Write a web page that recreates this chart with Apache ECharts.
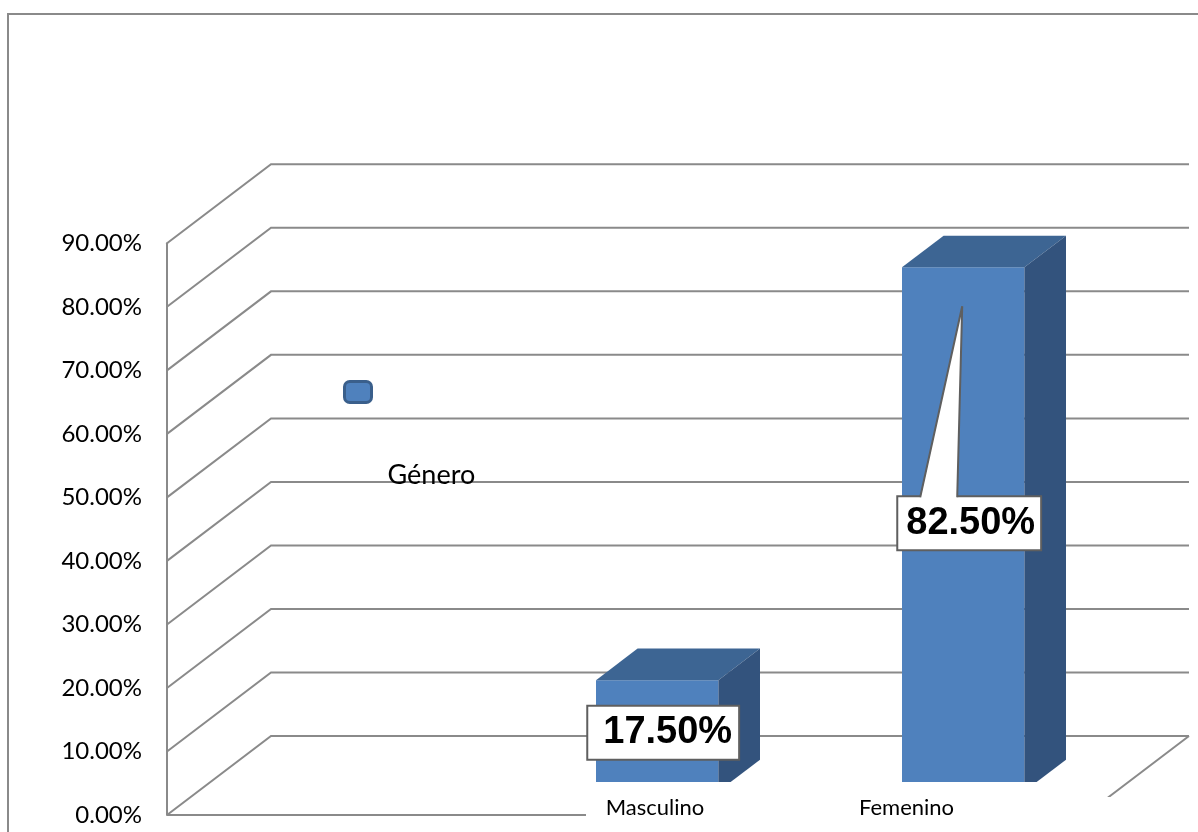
<!DOCTYPE html>
<html>
<head>
<meta charset="utf-8">
<title>Género</title>
<script src="https://cdn.jsdelivr.net/npm/echarts@6/dist/echarts.min.js"></script>
<style>
  html, body { margin: 0; padding: 0; background: #ffffff; }
  #chart { width: 1198px; height: 832px; }
</style>
</head>
<body>
<div id="chart"></div>
<script>
// Categories along the floor (the first slot is left empty)
const categories = ['', 'Masculino', 'Femenino'];
// Share of respondents per category
const shares = [null, 0.175, 0.825];
// Value-axis ticks (also the wall/floor grid lines)
const yTicks = [0, 0.1, 0.2, 0.3, 0.4, 0.5, 0.6, 0.7, 0.8, 0.9];
const seriesName = 'Género';

// Oblique projection: offset from the front plane to the back wall, in px
const DEPTH_X = 104;
const DEPTH_Y = 79;
// Bars occupy the middle 40% of the depth and 40% of a category band
const BAR_FRONT = 0.3;
const BAR_DEPTH = 0.4;
const BAR_WIDTH = 0.4;

const GRID_COLOR = '#8a8a8a';
const FACE_FRONT = '#4f81bd';
const FACE_TOP = '#3d6593';
const FACE_SIDE = '#33537d';

const pct = v => (v * 100).toFixed(2) + '%';

// Side wall + back wall lines, one polyline per tick value
function renderWall(params, api) {
  const v = api.value(1);
  const band = api.size([1, 0])[0];
  const p = api.coord([0, v]);
  const x0 = p[0] - band / 2;
  const x1 = api.coord([categories.length - 1, v])[0] + band / 2;
  const y = p[1];
  const children = [{
    type: 'polyline',
    shape: { points: [[x0, y], [x0 + DEPTH_X, y - DEPTH_Y], [x1 + DEPTH_X, y - DEPTH_Y]] },
    style: { stroke: GRID_COLOR, lineWidth: 2, fill: null }
  }];
  if (v === 0) {
    // front and right edges of the floor
    children.push({
      type: 'polyline',
      shape: { points: [[x0, y], [x1, y], [x1 + DEPTH_X, y - DEPTH_Y]] },
      style: { stroke: GRID_COLOR, lineWidth: 2, fill: null }
    });
  }
  return { type: 'group', children: children };
}

// Label placement per category (box padding, callout)
const labelLook = {
  1: { padLeft: 15, padRight: 6, dy: -3, callout: false },
  2: { padLeft: 8, padRight: 5, dy: -6, callout: true }
};

// 3-D column: front, top and side faces, plus the value label
function renderBar(params, api) {
  const idx = api.value(0);
  const v = api.value(1);
  const band = api.size([1, 0])[0];
  const base = api.coord([idx, 0]);
  const top = api.coord([idx, v]);
  const w = band * BAR_WIDTH;
  const fdx = DEPTH_X * BAR_FRONT, fdy = DEPTH_Y * BAR_FRONT;
  const ddx = DEPTH_X * BAR_DEPTH, ddy = DEPTH_Y * BAR_DEPTH;
  const cx = base[0] + fdx;
  const xL = cx - w / 2, xR = cx + w / 2;
  const yT = top[1] - fdy;
  const yB = base[1] - fdy;
  // the floor band in front of the columns is left open
  const clipY = base[1] - 33;
  const yBottom = Math.min(yB, clipY);

  const sidePts = [[xR, yT], [xR + ddx, yT - ddy], [xR + ddx, Math.min(yB - ddy, clipY)]];
  if (yB > clipY) {
    sidePts.push([xR + (yB - clipY) * ddx / ddy, clipY]);
  }
  sidePts.push([xR, yBottom]);

  const children = [
    { type: 'rect', shape: { x: xL, y: yT, width: w, height: yBottom - yT }, style: { fill: FACE_FRONT } },
    { type: 'polygon', shape: { points: [[xL, yT], [xL + ddx, yT - ddy], [xR + ddx, yT - ddy], [xR, yT]] }, style: { fill: FACE_TOP } },
    { type: 'polygon', shape: { points: sidePts }, style: { fill: FACE_SIDE } }
  ];

  const look = labelLook[idx] || { padLeft: 10, padRight: 8, dy: 0, callout: false };
  const midY = (yT + yB) / 2 + look.dy;
  const textX = cx + 6;
  children.push({
    type: 'text',
    z2: 10,
    style: {
      text: pct(v),
      x: textX,
      y: midY,
      align: 'center',
      verticalAlign: 'middle',
      font: 'bold 38px "Liberation Sans", Arial, sans-serif',
      fill: '#000000',
      backgroundColor: '#ffffff',
      borderColor: '#5f5f5f',
      borderWidth: 2,
      lineHeight: 40,
      padding: [6, look.padRight, 6, look.padLeft]
    }
  });
  if (look.callout) {
    const boxTop = midY - 26;
    const tip = [cx - 1, yT + 39];
    const a = [cx - 43, boxTop];
    const b = [cx - 6, boxTop];
    children.push({
      type: 'polygon', z2: 11,
      shape: { points: [[a[0], boxTop + 2], tip, [b[0], boxTop + 2]] },
      style: { fill: '#ffffff' }
    });
    children.push({
      type: 'polyline', z2: 12,
      shape: { points: [a, tip, b] },
      style: { stroke: '#5f5f5f', lineWidth: 2, fill: null }
    });
  }
  return { type: 'group', children: children };
}

const chart = echarts.init(document.getElementById('chart'), null, { renderer: 'canvas' });

chart.setOption({
  backgroundColor: '#ffffff',
  animation: false,
  graphic: [
    {
      type: 'rect', z: 0,
      shape: { x: 8, y: 14, width: 1300, height: 900 },
      style: { fill: null, stroke: '#8a8a8a', lineWidth: 2 }
    },
    {
      // area under the category names
      type: 'rect', z: 50,
      shape: { x: 586, y: 797, width: 640, height: 34 },
      style: { fill: '#ffffff' }
    }
  ],
  legend: {
    data: [{
      name: seriesName,
      icon: 'roundRect',
      itemStyle: { color: FACE_FRONT, borderColor: '#3a5f8b', borderWidth: 3 }
    }],
    left: 343,
    top: 380,
    padding: 0,
    itemWidth: 27,
    itemHeight: 21,
    selectedMode: false,
    formatter: name => '{t|' + name + '}',
    textStyle: {
      rich: {
        t: { fontFamily: 'Lato', fontSize: 27, color: '#000000', padding: [166, 0, 0, 11] }
      }
    }
  },
  grid: { left: 167, right: 113, top: 243.3, bottom: 17, containLabel: false },
  xAxis: {
    type: 'category',
    data: categories,
    z: 60,
    axisLine: { show: false },
    axisTick: { show: false },
    axisLabel: {
      margin: -18,
      interval: 0,
      formatter: (val, i) => i === 1 ? '{m|' + val + '}' : (i === 2 ? '{f|' + val + '}' : val),
      rich: {
        m: { fontFamily: 'Lato', fontSize: 22, color: '#000000', padding: [0, 0, 0, 58] },
        f: { fontFamily: 'Lato', fontSize: 22, color: '#000000', padding: [0, 51, 0, 0] }
      }
    }
  },
  yAxis: {
    type: 'value',
    min: 0,
    max: 0.9,
    interval: 0.1,
    axisLine: { show: true, lineStyle: { color: GRID_COLOR, width: 2 } },
    axisTick: { show: false },
    splitLine: { show: false },
    axisLabel: {
      margin: 25,
      fontFamily: 'Lato',
      fontSize: 24,
      color: '#000000',
      padding: [6, 0, 0, 0],
      formatter: v => pct(v)
    }
  },
  series: [
    {
      type: 'custom',
      name: 'grid',
      silent: true,
      clip: false,
      z: 1,
      renderItem: renderWall,
      encode: { x: 0, y: 1 },
      data: yTicks.map(v => [0, v])
    },
    {
      type: 'custom',
      name: seriesName,
      clip: false,
      z: 3,
      itemStyle: { color: FACE_FRONT },
      renderItem: renderBar,
      encode: { x: 0, y: 1 },
      data: shares.map((v, i) => [i, v]).filter(d => d[1] !== null)
    }
  ]
});
</script>
</body>
</html>
